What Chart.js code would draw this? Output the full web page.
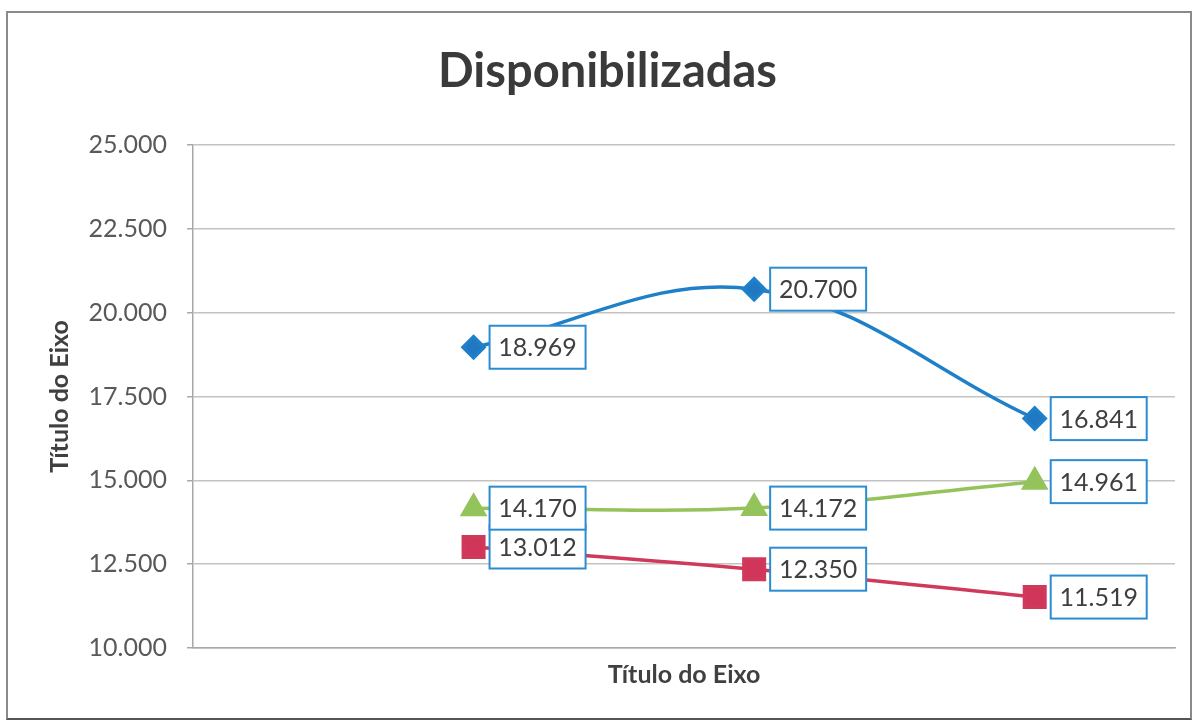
<!DOCTYPE html>
<html>
<head>
<meta charset="utf-8">
<script src="https://cdn.jsdelivr.net/npm/chart.js@4/dist/chart.umd.min.js"></script>
<style>
  html, body { margin: 0; padding: 0; background: #fff; }
  #wrap { position: relative; width: 1193px; height: 723px; }
  #frame {
    position: absolute; left: 6px; top: 11px; width: 1182px; height: 705px;
    border: 2px solid #8a8a8a; border-bottom-color: #555;
  }
  #chart { position: absolute; left: 0; top: 0; }
</style>
</head>
<body>
<div id="wrap">
  <div id="frame"></div>
  <canvas id="chart" width="1193" height="723"></canvas>
</div>
<script>
// --- DATA ---
const periods = [1, 2, 3];
const serieAzul = [18969, 20700, 16841];
const serieVermelha = [13012, 12350, 11519];
const serieVerde = [14170, 14172, 14961];
const yTicks = [10000, 12500, 15000, 17500, 20000, 22500, 25000];

const FONT = 'Lato, "Open Sans", sans-serif';

// 25000 -> "25.000"
function formatBR(v) {
  return String(Math.round(v)).replace(/\B(?=(\d{3})+(?!\d))/g, '.');
}

function toPoints(values) {
  return periods.map((p, i) => ({ x: p, y: values[i] }));
}

// Boxed value labels to the right of each point
const boxLabels = {
  id: 'boxLabels',
  afterDatasetsDraw(chart) {
    const ctx = chart.ctx;
    ctx.save();
    ctx.font = '25px ' + FONT;
    ctx.textAlign = 'center';
    ctx.textBaseline = 'middle';
    chart.data.datasets.forEach((ds, di) => {
      const meta = chart.getDatasetMeta(di);
      meta.data.forEach((pt, i) => {
        const w = 96, h = 43;
        const left = pt.x + 16;
        const top = pt.y - h / 2;
        ctx.fillStyle = '#ffffff';
        ctx.fillRect(left, top, w, h);
        ctx.lineWidth = 2;
        ctx.strokeStyle = '#2b8cd2';
        ctx.strokeRect(left, top, w, h);
        ctx.fillStyle = '#3f3f3f';
        ctx.fillText(formatBR(ds.data[i].y), left + w / 2, pt.y + 1);
      });
    });
    ctx.restore();
  }
};

const axisTitle = {
  display: true,
  text: 'Título do Eixo',
  color: '#404040',
  font: { family: FONT, size: 25, weight: 'bold', lineHeight: 1.2 }
};

const ctx = document.getElementById('chart').getContext('2d');
new Chart(ctx, {
  type: 'line',
  data: {
    datasets: [
      {
        data: toPoints(serieAzul),
        borderColor: '#1f80c9',
        backgroundColor: '#1f78c1',
        borderWidth: 3.5,
        pointStyle: 'rectRot',
        pointRadius: 10.5,
        tension: 0.38
      },
      {
        data: toPoints(serieVermelha),
        borderColor: '#cf3a5b',
        backgroundColor: '#d1365a',
        borderWidth: 3.5,
        pointStyle: 'rect',
        pointRadius: 14.5,
        tension: 0.38
      },
      {
        data: toPoints(serieVerde),
        borderColor: '#95c35b',
        backgroundColor: '#93c45c',
        borderWidth: 3.5,
        pointStyle: 'triangle',
        pointRadius: 12.5,
        tension: 0.38
      }
    ]
  },
  options: {
    responsive: false,
    animation: false,
    devicePixelRatio: 1,
    layout: { padding: { left: 40, right: 18, top: 0, bottom: 20 } },
    plugins: {
      legend: { display: false },
      tooltip: { enabled: false },
      title: {
        display: true,
        text: 'Disponibilizadas',
        color: '#3a3a3a',
        font: { family: FONT, size: 47, weight: 'bold', lineHeight: 1.2 },
        padding: { top: 44, bottom: 44.6 }
      }
    },
    scales: {
      x: {
        type: 'linear',
        min: 0,
        max: 3.5,
        ticks: { display: false },
        grid: { display: false, drawTicks: false },
        border: { display: true, color: '#a8a8a8', width: 1.5 },
        title: { ...axisTitle, padding: { top: 0, bottom: 13 } },
        afterFit: s => { s.height = 55; }
      },
      y: {
        min: 10000,
        max: 25000,
        afterBuildTicks: s => { s.ticks = yTicks.map(v => ({ value: v })); },
        ticks: {
          color: '#595959',
          font: { family: FONT, size: 25 },
          padding: 20,
          callback: v => formatBR(v)
        },
        grid: { color: '#c3c3c3', lineWidth: 1.5, tickLength: 6, tickColor: '#a8a8a8' },
        border: { display: true, color: '#a8a8a8', width: 1.5 },
        title: { ...axisTitle, padding: { top: 5, bottom: 0 } },
        afterFit: s => { s.width = 153; }
      }
    }
  },
  plugins: [boxLabels]
});
</script>
</body>
</html>
